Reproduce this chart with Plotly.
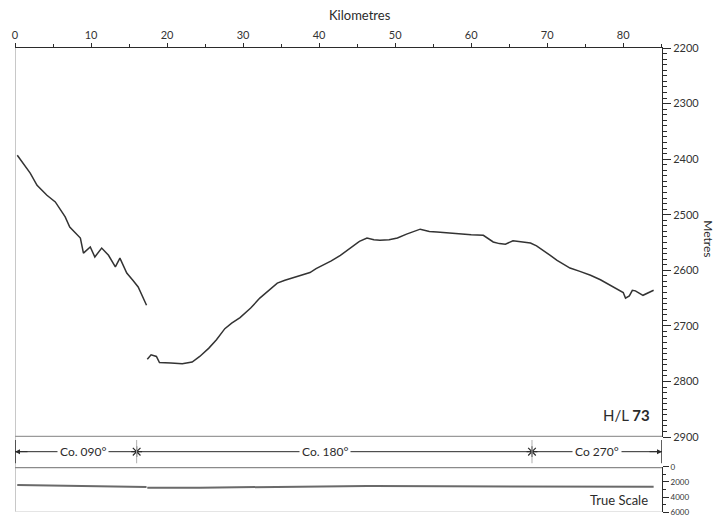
import plotly.graph_objects as go

# ---- data ----
seg1_km = [0.3, 0.9, 2.0, 2.9, 4.2, 5.3, 6.6, 7.2, 8.6, 9.0, 9.9, 10.5, 11.4, 12.3,
           13.2, 13.8, 14.7, 15.5, 16.2, 17.3]
seg1_depth = [2393, 2405, 2425, 2447, 2465, 2477, 2504, 2522, 2542, 2569, 2558, 2576,
              2560, 2573, 2594, 2578, 2605, 2618, 2630, 2663]

seg2_km = [17.4, 17.9, 18.6, 19.0, 20.5, 22.0, 23.3, 24.3, 25.5, 26.5, 27.6, 28.5, 29.6,
           31.0, 32.2, 33.4, 34.5, 35.5, 36.6, 37.7, 38.8, 39.6, 40.5, 41.6, 42.8, 43.6,
           44.5, 45.3, 46.3, 47.2, 48.0, 49.2, 50.3, 51.5, 53.3, 54.5, 55.5, 57.0, 58.6,
           60.0, 61.6, 62.3, 62.9, 63.7, 64.5, 65.5, 66.7, 67.8, 68.6, 69.5, 70.4, 71.3,
           72.2, 73.0, 74.3, 75.7, 77.0, 78.3, 79.2, 80.0, 80.3, 80.8, 81.2, 81.6, 82.6,
           83.3, 84.0]
seg2_depth = [2760, 2752, 2755, 2766, 2767, 2768, 2765, 2755, 2740, 2725, 2705, 2695, 2685,
              2668, 2650, 2635, 2623, 2618, 2613, 2608, 2604, 2597, 2591, 2583, 2573, 2565,
              2555, 2548, 2542, 2545, 2546, 2545, 2542, 2535, 2526, 2530, 2531, 2533, 2534,
              2536, 2537, 2544, 2549, 2552, 2553, 2547, 2549, 2551, 2556, 2564, 2573, 2582,
              2590, 2596, 2602, 2609, 2617, 2627, 2634, 2640, 2650, 2646, 2636, 2637, 2645,
              2640, 2636]

km_ticks = [0, 10, 20, 30, 40, 50, 60, 70, 80]
depth_ticks = [2200, 2300, 2400, 2500, 2600, 2700, 2800, 2900]
true_ticks = [0, 2000, 4000, 6000]

course_change_km = [16.0, 68.0]
course_labels = ["Co. 090°", "Co. 180°", "Co 270°"]
course_label_km = [9.0, 40.8, 76.6]

X_MAX = 85.1
FONT = "Lato, 'Open Sans', sans-serif"
INK = "#2b2b2b"

fig = go.Figure()

line_style = dict(color="#333333", width=1.5)
fig.add_trace(go.Scatter(x=seg1_km, y=seg1_depth, mode="lines", line=line_style,
                         xaxis="x", yaxis="y", showlegend=False))
fig.add_trace(go.Scatter(x=seg2_km, y=seg2_depth, mode="lines", line=line_style,
                         xaxis="x", yaxis="y", showlegend=False))

# true-scale profile
fig.add_trace(go.Scatter(x=seg1_km, y=seg1_depth, mode="lines",
                         line=dict(color="#6a6a6a", width=2), xaxis="x", yaxis="y2",
                         showlegend=False))
fig.add_trace(go.Scatter(x=seg2_km, y=seg2_depth, mode="lines",
                         line=dict(color="#6a6a6a", width=2), xaxis="x", yaxis="y2",
                         showlegend=False))

# course change markers
fig.add_trace(go.Scatter(x=course_change_km, y=[0.5, 0.5], mode="markers",
                         marker=dict(symbol="asterisk-open", size=9, color=INK,
                                     line=dict(color=INK, width=1.2)),
                         xaxis="x", yaxis="y3", showlegend=False))

MAIN_DOM = [0.1616, 1.0]
TRUE_DOM = [0.0, 0.097]
COURSE_DOM = [0.105, 0.155]

fig.update_layout(
    width=717, height=520,
    margin=dict(l=15, r=55, t=48, b=8, autoexpand=False),
    paper_bgcolor="white", plot_bgcolor="white",
    font=dict(family=FONT, color=INK, size=11),
    xaxis=dict(range=[0, X_MAX], side="top", anchor="y", automargin=False,
               tickvals=km_ticks, ticktext=[str(v) for v in km_ticks],
               ticks="outside", ticklen=4, tickcolor=INK,
               minor=dict(dtick=5, ticks="outside", ticklen=3, tickcolor=INK),
               showline=True, linecolor=INK, linewidth=1,
               showgrid=False, zeroline=False,
               tickfont=dict(size=11, color="#333")),
    yaxis=dict(domain=MAIN_DOM, range=[2900, 2200], side="right", anchor="x",
               automargin=False,
               tickvals=depth_ticks, ticks="outside", ticklen=8, tickcolor=INK,
               minor=dict(dtick=10, ticks="outside", ticklen=4, tickcolor=INK),
               showline=True, linecolor=INK, linewidth=1,
               showgrid=False, zeroline=False, ticklabelstandoff=0,
               tickfont=dict(size=11, color="#333")),
    yaxis2=dict(domain=TRUE_DOM, range=[6000, 0], side="right", anchor="x",
                automargin=False,
                tickvals=true_ticks, ticks="outside", ticklen=6, tickcolor=INK,
                minor=dict(dtick=1000, ticks="outside", ticklen=3, tickcolor=INK),
                showline=True, linecolor=INK, linewidth=1,
                showgrid=False, zeroline=False,
                tickfont=dict(size=8, color="#333")),
    yaxis3=dict(domain=COURSE_DOM, range=[0, 1], anchor="x", visible=False,
                automargin=False),
)

shapes = []
# left faint frame line
shapes.append(dict(type="line", xref="x", yref="paper", x0=0, x1=0, y0=0, y1=1,
                   line=dict(color="#c8c8c8", width=2), layer="below"))
# bottom line of main panel at 2900
shapes.append(dict(type="line", xref="x", yref="y", x0=0, x1=X_MAX, y0=2900, y1=2900,
                   line=dict(color="#9a9a9a", width=2.5), layer="below"))
# sea surface line on true scale panel
shapes.append(dict(type="line", xref="x", yref="y2", x0=0, x1=X_MAX, y0=0, y1=0,
                   line=dict(color="#8a8a8a", width=2.5), layer="below"))
# faint bottom frame
shapes.append(dict(type="line", xref="x", yref="y2", x0=0, x1=X_MAX, y0=6000, y1=6000,
                   line=dict(color="#dddddd", width=1.5), layer="below"))
# course line
shapes.append(dict(type="line", xref="x", yref="y3", x0=0, x1=X_MAX, y0=0.5, y1=0.5,
                   line=dict(color=INK, width=1), layer="below"))
# end bars
for xv in [0, X_MAX]:
    shapes.append(dict(type="line", xref="x", yref="y3", x0=xv, x1=xv, y0=-0.1, y1=1.1,
                       line=dict(color=INK, width=1.5)))
# course change verticals
for xv in course_change_km:
    shapes.append(dict(type="line", xref="x", yref="y3", x0=xv, x1=xv, y0=-0.3, y1=1.3,
                       line=dict(color="#b0b0b0", width=1)))
fig.update_layout(shapes=shapes)

ann = []
for lab, xv in zip(course_labels, course_label_km):
    ann.append(dict(x=xv, y=0.5, xref="x", yref="y3", text=lab, showarrow=False,
                    bgcolor="white", borderpad=2, font=dict(size=12, color=INK)))
# arrowheads
ann.append(dict(x=0, y=0.5, ax=14, ay=0, xref="x", yref="y3", axref="pixel", ayref="pixel",
                text="", showarrow=True, arrowhead=2, arrowsize=1, arrowwidth=1,
                arrowcolor=INK, standoff=0))
ann.append(dict(x=X_MAX, y=0.5, ax=-14, ay=0, xref="x", yref="y3", text="",
                showarrow=True, arrowhead=2, arrowsize=1, arrowwidth=1,
                arrowcolor=INK, standoff=0))
ann.append(dict(x=0.534, y=1.071, xref="paper", yref="paper", text="Kilometres",
                showarrow=False, xanchor="center", yanchor="middle",
                font=dict(size=13, color=INK)))
ann.append(dict(x=1.0, y=0.209, xref="paper", yref="paper", text="H/L <b>73</b>",
                showarrow=False, xanchor="right", yanchor="middle", xshift=-10,
                font=dict(size=15, color=INK)))
ann.append(dict(x=1.0, y=0.026, xref="paper", yref="paper", text="True Scale",
                showarrow=False, xanchor="right", yanchor="middle", xshift=-12,
                font=dict(size=13, color=INK)))
ann.append(dict(x=1.0, y=0.59, xref="paper", yref="paper", text="Metres",
                showarrow=False, textangle=90, xanchor="center", yanchor="middle",
                xshift=47, font=dict(size=12, color=INK)))
fig.update_layout(annotations=ann)

fig.write_html("out.html",
               config={"displayModeBar": False},
               post_script="document.body.style.margin='0px';"
                           "document.body.style.overflow='hidden';")
